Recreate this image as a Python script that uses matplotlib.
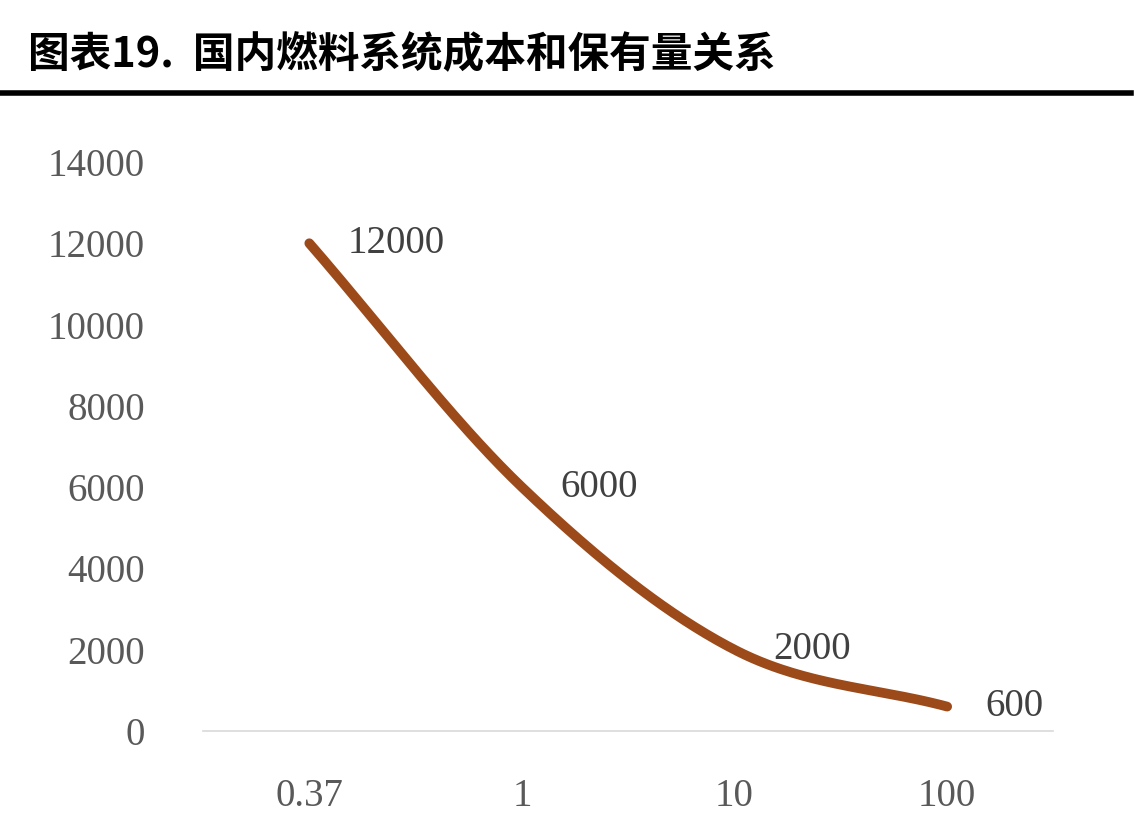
import matplotlib
matplotlib.use("Agg")
import matplotlib.pyplot as plt
import numpy as np
from matplotlib.lines import Line2D

categories = ["0.37", "1", "10", "100"]
values = [12000, 6000, 2000, 600]
yticks = [0, 2000, 4000, 6000, 8000, 10000, 12000, 14000]

fig = plt.figure(figsize=(11.34, 8.16), dpi=100)
ax = fig.add_axes([0.179, 0.1042, 0.75, 0.6973])

x = np.arange(len(values), dtype=float)
y = np.array(values, dtype=float)
# Catmull-Rom smoothing between data points
xs, ys = [], []
px = np.concatenate([[2*x[0]-x[1]], x, [2*x[-1]-x[-2]]])
py = np.concatenate([[2*y[0]-y[1]], y, [2*y[-1]-y[-2]]])
t = np.linspace(0, 1, 60)
for i in range(1, len(px)-2):
    for arr, out in ((px, xs), (py, ys)):
        p0, p1, p2, p3 = arr[i-1], arr[i], arr[i+1], arr[i+2]
        out.extend(0.5*((2*p1) + (-p0+p2)*t + (2*p0-5*p1+4*p2-p3)*t**2 + (-p0+3*p1-3*p2+p3)*t**3))
ax.plot(xs, ys, color="#9C4A1A", lw=7, solid_capstyle="round")

serif = "Liberation Serif"
for xi, v in zip(x, values):
    ax.text(xi + 0.18, v, str(v), fontsize=28, family=serif, color="#404040",
            va="center", ha="left")

ax.set_xlim(-0.5, 3.5)
ax.set_ylim(0, 14000)
ax.set_xticks(x)
ax.set_xticklabels(categories)
ax.set_yticks(yticks)
for lab in ax.get_xticklabels() + ax.get_yticklabels():
    lab.set_family(serif); lab.set_fontsize(28); lab.set_color("#595959")
ax.tick_params(axis="x", length=0, pad=34)
ax.tick_params(axis="y", length=0, pad=42)
for s in ["top", "right", "left"]:
    ax.spines[s].set_visible(False)
ax.spines["bottom"].set_color("#D9D9D9")
ax.spines["bottom"].set_linewidth(1.2)

fig.text(0.025, 0.933, "图表19.  国内燃料系统成本和保有量关系", fontsize=30, fontweight="bold",
         family=["Noto Sans CJK SC", "DejaVu Sans"], va="center", ha="left")
fig.add_artist(Line2D([0, 0.997], [0.886, 0.886], transform=fig.transFigure, color="black", lw=4))

fig.savefig("out.png", dpi=100)
